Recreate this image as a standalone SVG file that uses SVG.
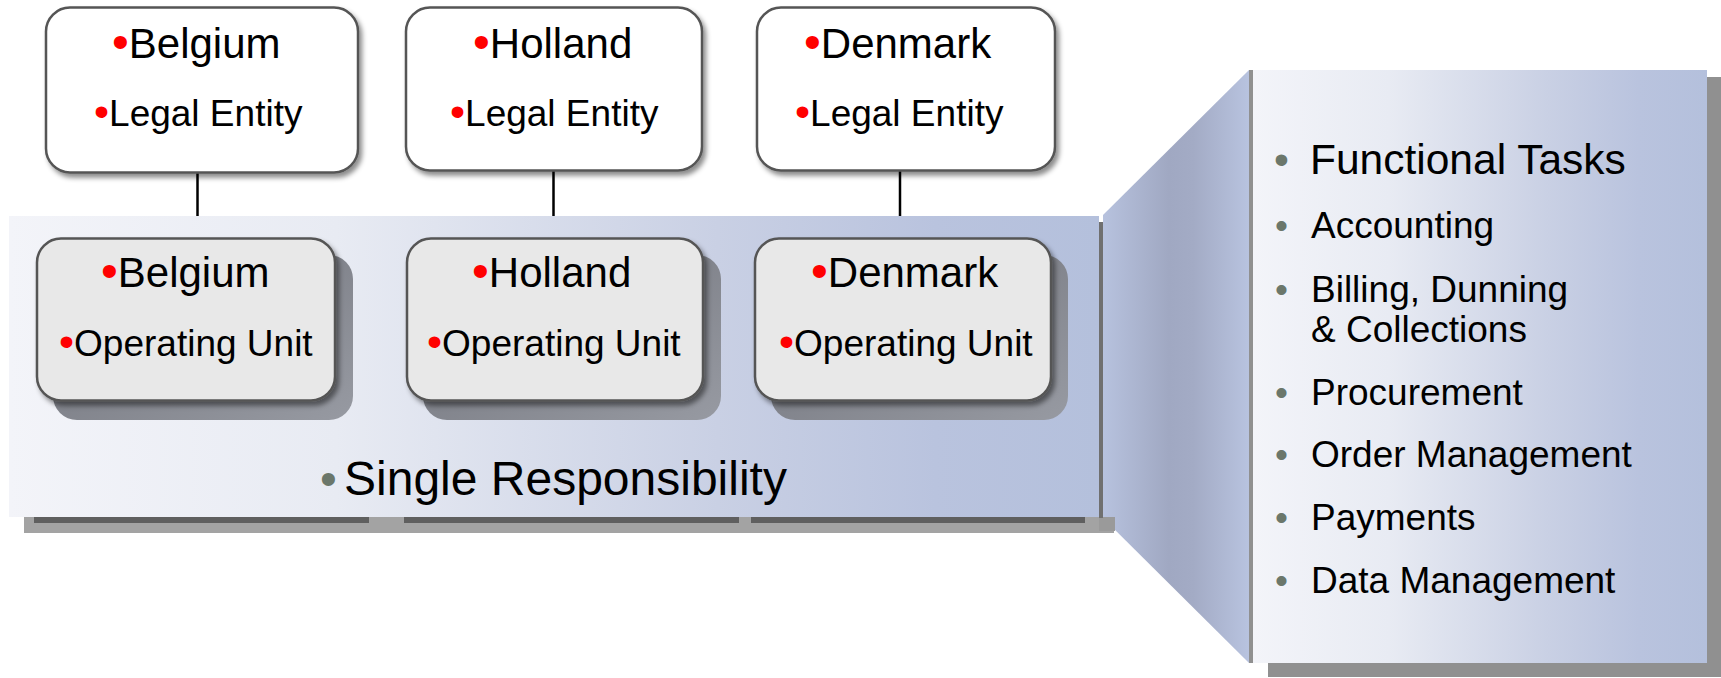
<svg xmlns="http://www.w3.org/2000/svg" width="1721" height="678" viewBox="0 0 1721 678">
<defs>
<linearGradient id="panelGrad" x1="0" y1="0" x2="1" y2="0">
<stop offset="0" stop-color="#f3f4f9"/>
<stop offset="0.3" stop-color="#e8ebf3"/>
<stop offset="0.65" stop-color="#c9d0e4"/>
<stop offset="0.85" stop-color="#b9c3de"/>
<stop offset="1" stop-color="#b4c0dc"/>
</linearGradient>
<linearGradient id="trapGrad" x1="0" y1="0" x2="1" y2="0">
<stop offset="0" stop-color="#b7c2de"/>
<stop offset="0.45" stop-color="#a0a8c2"/>
<stop offset="0.62" stop-color="#a3abc5"/>
<stop offset="1" stop-color="#b8c3df"/>
</linearGradient>
<linearGradient id="ouShGrad" x1="0" y1="0" x2="1" y2="1">
<stop offset="0" stop-color="#6e7078"/>
<stop offset="1" stop-color="#979aa2"/>
</linearGradient>
<filter id="soft" x="-10%" y="-10%" width="130%" height="130%">
<feDropShadow dx="3" dy="4" stdDeviation="2.5" flood-color="#000" flood-opacity="0.45"/>
</filter>
<style>
text { font-family: "Liberation Sans", Arial, sans-serif; fill: #000; }
.le { fill: #fff; stroke: #555; stroke-width: 2.5; }
.ou { fill: #e8e8e8; stroke: #555; stroke-width: 2.5; }
.c { font-size: 42px; }
.s { font-size: 37px; }
.t { font-size: 42.5px; }
.big { font-size: 48px; }
.rb { fill: #f00; }
.c .rb { font-size: 48px; }
.s .rb { font-size: 43px; }
.gb { fill: #6b776b; }
.conn { stroke: #000; stroke-width: 2.5; fill: none; }
.sh { fill: #a3a3a3; }
.shd { fill: #5f5f5f; }
</style>
</defs>

<g id="panel">
<rect class="sh" x="24" y="232" width="1090" height="301"/>
<rect class="shd" x="34" y="517" width="335" height="6"/>
<rect class="shd" x="404" y="517" width="335" height="6"/>
<rect class="shd" x="751" y="517" width="334" height="6"/>
<rect x="9" y="216" width="1090" height="301" fill="url(#panelGrad)"/>
</g>

<g id="callout">
<polygon points="1103,215 1249,70 1249,663 1103,518" fill="url(#trapGrad)"/>
<rect x="1099" y="517" width="16" height="14" fill="#9a9a9a"/>
<rect x="1099" y="222" width="4" height="296" fill="#707070"/>
</g>

<g id="functional-tasks">
<rect x="1268" y="77" width="453" height="600" fill="#909090"/>
<rect x="1249" y="70" width="4" height="593" fill="#909090"/>
<rect x="1253" y="70" width="454" height="593" fill="url(#panelGrad)"/>
<text class="t" y="174"><tspan class="gb" x="1274">•</tspan><tspan x="1310">Functional Tasks</tspan></text>
<text class="s" y="238"><tspan class="gb" x="1275">•</tspan><tspan x="1311">Accounting</tspan></text>
<text class="s" y="302"><tspan class="gb" x="1275">•</tspan><tspan x="1311">Billing, Dunning</tspan></text>
<text class="s" x="1311" y="342">&amp; Collections</text>
<text class="s" y="405"><tspan class="gb" x="1275">•</tspan><tspan x="1311">Procurement</tspan></text>
<text class="s" y="467"><tspan class="gb" x="1275">•</tspan><tspan x="1311">Order Management</tspan></text>
<text class="s" y="530"><tspan class="gb" x="1275">•</tspan><tspan x="1311">Payments</tspan></text>
<text class="s" y="593"><tspan class="gb" x="1275">•</tspan><tspan x="1311">Data Management</tspan></text>
</g>

<g id="connectors">
<line class="conn" x1="197.5" y1="173" x2="197.5" y2="216"/>
<line class="conn" x1="553.5" y1="171" x2="553.5" y2="216"/>
<line class="conn" x1="900" y1="171" x2="900" y2="216"/>
</g>

<g id="le-belgium">
<rect class="le" x="46" y="7.5" width="312" height="165" rx="24" filter="url(#soft)"/>
<text class="c" x="112" y="58"><tspan class="rb">•</tspan>Belgium</text>
<text class="s" x="94" y="126"><tspan class="rb">•</tspan>Legal Entity</text>
</g>
<g id="le-holland">
<rect class="le" x="406" y="7.5" width="296" height="163" rx="24" filter="url(#soft)"/>
<text class="c" x="473" y="58"><tspan class="rb">•</tspan>Holland</text>
<text class="s" x="450" y="126"><tspan class="rb">•</tspan>Legal Entity</text>
</g>
<g id="le-denmark">
<rect class="le" x="757" y="7.5" width="298" height="163" rx="24" filter="url(#soft)"/>
<text class="c" x="804" y="58"><tspan class="rb">•</tspan>Denmark</text>
<text class="s" x="795" y="126"><tspan class="rb">•</tspan>Legal Entity</text>
</g>

<g id="ou-belgium">
<rect x="53" y="255" width="300" height="165" rx="24" fill="url(#ouShGrad)"/>
<rect class="ou" x="37" y="238.5" width="298" height="162" rx="24" filter="url(#soft)"/>
<text class="c" x="101" y="287"><tspan class="rb">•</tspan>Belgium</text>
<text class="s" x="59" y="356"><tspan class="rb">•</tspan>Operating Unit</text>
</g>
<g id="ou-holland">
<rect x="423" y="255" width="298" height="165" rx="24" fill="url(#ouShGrad)"/>
<rect class="ou" x="407" y="238.5" width="296" height="162" rx="24" filter="url(#soft)"/>
<text class="c" x="472" y="287"><tspan class="rb">•</tspan>Holland</text>
<text class="s" x="427" y="356"><tspan class="rb">•</tspan>Operating Unit</text>
</g>
<g id="ou-denmark">
<rect x="771" y="255" width="297" height="165" rx="24" fill="url(#ouShGrad)"/>
<rect class="ou" x="755" y="238.5" width="296" height="162" rx="24" filter="url(#soft)"/>
<text class="c" x="811" y="287"><tspan class="rb">•</tspan>Denmark</text>
<text class="s" x="779" y="356"><tspan class="rb">•</tspan>Operating Unit</text>
</g>

<g id="single-responsibility">
<text class="big" y="495"><tspan class="gb" x="320">•</tspan><tspan x="344">Single Responsibility</tspan></text>
</g>
</svg>
